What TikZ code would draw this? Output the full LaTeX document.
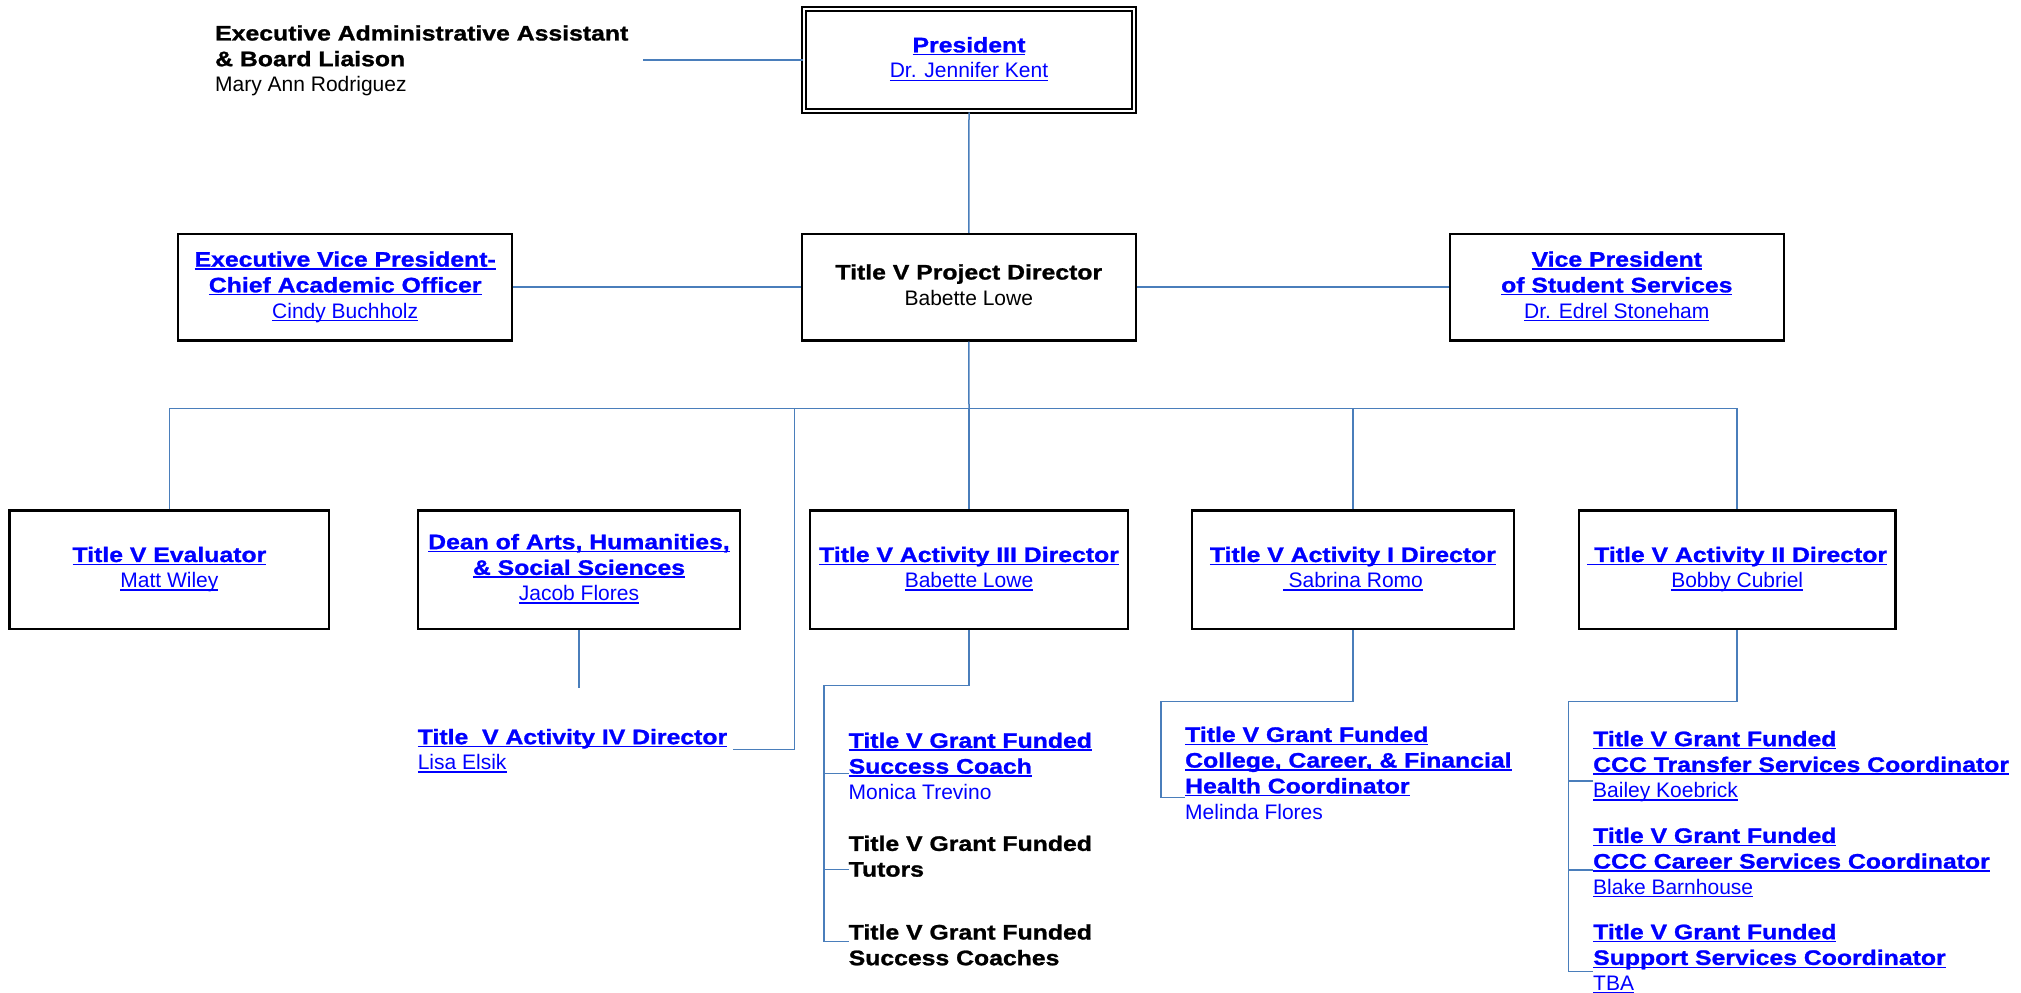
\documentclass[tikz,border=0pt]{standalone}
\usepackage{fontspec}
\setmainfont{Liberation Sans}[BoldFeatures={FakeStretch=1.18,FakeBold=1.2}]
\definecolor{lnk}{RGB}{0,0,255}
\definecolor{connblue}{RGB}{74,126,187}
\newcommand\fsz{\fontsize{21}{25.7}\selectfont}
\newcommand\ulb[1]{\setbox0\hbox{#1}\rlap{\rule[-3pt]{\wd0}{1.4pt}}\box0}
\newcommand\LB[1]{\strut\ulb{\bfseries #1}}
\newcommand\LR[1]{\strut\ulb{#1}}
\newcommand\TB[1]{\strut{\bfseries #1}}
\newcommand\TR[1]{\strut #1}
\tikzset{
  box/.style={draw=black, line width=2.4pt, inner sep=0pt, align=center, font=\fsz, text=lnk,
    execute at begin node={\rule{0pt}{22pt}}},
  txt/.style={inner sep=0pt, align=left, anchor=north west, font=\fsz, text=lnk},
  cline/.style={draw=connblue, line width=1.5pt},
}
\begin{document}
\begin{tikzpicture}[x=1pt,y=-1pt]
\useasboundingbox (0,0) rectangle (2021,993);
% boxes
\node[box, double=white, double distance=1.8pt, line width=2.2pt, minimum width=330.4pt, minimum height=102.4pt] (pres) at (969,60) {\LB{President}\\\LR{Dr. Jennifer Kent}};
\node[box, text=black, minimum width=334pt, minimum height=106.5pt] (pd) at (968.8,287.2) {\TB{Title V Project Director}\\\TR{Babette Lowe}};
\node[box, minimum width=334pt, minimum height=106.5pt] (evp) at (345.2,287.2) {\LB{Executive Vice President-}\\\LB{Chief Academic Officer}\\\LR{Cindy Buchholz}};
\node[box, minimum width=334pt, minimum height=106.5pt] (vp) at (1616.8,287.2) {\LB{Vice President}\\\LB{of Student Services}\\\LR{Dr. Edrel Stoneham}};
\node[box, minimum width=319.6pt, minimum height=118.3pt] (eval) at (169.4,569.7) {\LB{Title V Evaluator}\\\LR{Matt Wiley}};
\node[box, minimum width=322.3pt, minimum height=118.3pt] (dean) at (579,569.7) {\LB{Dean of Arts, Humanities,}\\\LB{\& Social Sciences}\\\LR{Jacob Flores}};
\node[box, minimum width=318pt, minimum height=118.3pt] (act3) at (969,569.7) {\LB{Title V Activity III Director}\\\LR{Babette Lowe}};
\node[box, minimum width=322pt, minimum height=118.3pt] (act1) at (1352.9,569.7) {\LB{Title V Activity I Director}\\\LR{\ Sabrina Romo}};
\node[box, minimum width=316.7pt, minimum height=118.3pt] (act2) at (1737.2,569.7) {\LB{\ Title V Activity II Director}\\\LR{Bobby Cubriel}};
% free texts
\node[txt, text=black] (exec) at (215,22.3) {\TB{Executive Administrative Assistant}\\\TB{\& Board Liaison}\\\TR{Mary Ann Rodriguez}};
\node[txt] (act4) at (417.6,726) {\LB{Title\ \ V Activity IV Director}\\\LR{Lisa Elsik}};
\node[txt] (sc) at (848.5,729.7) {\LB{Title V Grant Funded}\\\LB{Success Coach}\\\TR{Monica Trevino}};
\node[txt, text=black] (tut) at (848.5,832.7) {\TB{Title V Grant Funded}\\\TB{Tutors}};
\node[txt, text=black] (coa) at (848.5,921.3) {\TB{Title V Grant Funded}\\\TB{Success Coaches}};
\node[txt] (ccc) at (1185,723.7) {\LB{Title V Grant Funded}\\\LB{College, Career, \& Financial}\\\LB{Health Coordinator}\\\TR{Melinda Flores}};
\node[txt] (tra) at (1593,728) {\LB{Title V Grant Funded}\\\LB{CCC Transfer Services Coordinator}\\\LR{Bailey Koebrick}};
\node[txt] (car) at (1593,824.7) {\LB{Title V Grant Funded}\\\LB{CCC Career Services Coordinator}\\\LR{Blake Barnhouse}};
\node[txt] (sup) at (1593,921) {\LB{Title V Grant Funded}\\\LB{Support Services Coordinator}\\\LR{TBA}};
% connectors
\coordinate (exA) at (643,60);
\draw[cline] (exA) -- (pres.west);
\draw[cline] (pres.south) -- (pd.north);
\draw[cline] (evp.east) -- (pd.west);
\draw[cline] (pd.east) -- (vp.west);
\coordinate (bus) at (969,408.3);
\draw[cline] (pd.south) -- (bus);
\draw[cline] (eval.north) |- (bus) -| (act2.north);
\draw[cline] (bus) -- (act3.north);
\draw[cline] (act1.north) -- (act1.north |- bus);
\coordinate (a4top) at (794.7,408.3);
\draw[cline] (a4top) |- ([xshift=6pt,yshift=2.4pt]act4.east);
\coordinate (deanEnd) at (579,687.7);
\draw[cline] (dean.south) -- (deanEnd);
% Activity III tree
\coordinate (t3) at (823.9,685.7);
\coordinate (b31) at (823.9,773.7);
\coordinate (b32) at (823.9,869.3);
\coordinate (b33) at (823.9,941.7);
\draw[cline] (act3.south) |- (t3) -- (b33) -- (b33 -| coa.west);
\draw[cline] (b31) -- (b31 -| sc.west);
\draw[cline] (b32) -- (b32 -| tut.west);
% Activity I tree
\coordinate (t1) at (1160.8,701.7);
\coordinate (b11) at (1160.8,797.7);
\draw[cline] (act1.south) |- (t1) -- (b11) -- (b11 -| ccc.west);
% Activity II tree
\coordinate (t2) at (1568.5,701.7);
\coordinate (b21) at (1568.5,781);
\coordinate (b22) at (1568.5,870);
\coordinate (b23) at (1568.5,971.7);
\draw[cline] (act2.south) |- (t2) -- (b23) -- (b23 -| sup.west);
\draw[cline] (b21) -- (b21 -| tra.west);
\draw[cline] (b22) -- (b22 -| car.west);
\end{tikzpicture}
\end{document}
